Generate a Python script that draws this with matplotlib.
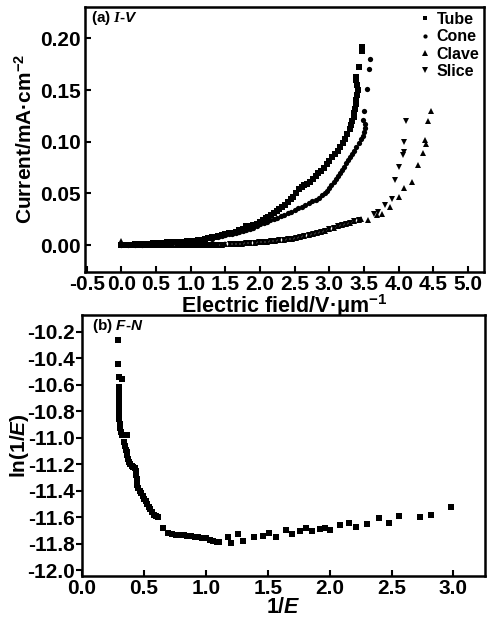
import matplotlib
matplotlib.use('Agg')
import matplotlib.pyplot as plt

# ---------------------------------------------------------------------------
# Datos
# ---------------------------------------------------------------------------
tube_x = [0.00, 0.05, 0.10, 0.15, 0.20, 0.25, 0.30, 0.35, 0.40, 0.45, 0.50, 0.55,
          0.60, 0.65, 0.70, 0.75, 0.80, 0.85, 0.90, 0.95, 1.00, 1.05, 1.10, 1.15,
          1.20, 1.25, 1.30, 1.35, 1.40, 1.45, 1.50, 1.55, 1.60, 1.65, 1.70, 1.75,
          1.80, 1.85, 1.90, 1.95, 2.00, 2.04, 2.08, 2.12, 2.16, 2.20, 2.24, 2.28,
          2.32, 2.36, 2.40, 2.44, 2.48, 2.52, 2.56, 2.60, 2.64, 2.68, 2.72, 2.76,
          2.80, 2.84, 2.88, 2.92, 2.96, 3.00, 3.04, 3.08, 3.12, 3.16, 3.20, 3.23,
          3.26, 3.29, 3.31, 3.33, 3.35, 3.36, 3.37, 3.38, 3.39, 3.40, 3.41, 3.40,
          3.39, 3.38, 3.42, 3.47, 3.47]
tube_y = [0.000, 0.000, 0.000, 0.000, 0.001, 0.001, 0.001, 0.001, 0.001, 0.002, 0.002, 0.002,
          0.002, 0.003, 0.003, 0.003, 0.003, 0.003, 0.003, 0.004, 0.004, 0.004, 0.005, 0.005,
          0.006, 0.007, 0.008, 0.008, 0.009, 0.010, 0.011, 0.012, 0.012, 0.013, 0.015, 0.016,
          0.018, 0.018, 0.019, 0.020, 0.022, 0.024, 0.026, 0.027, 0.029, 0.031, 0.033, 0.035,
          0.037, 0.039, 0.042, 0.045, 0.047, 0.050, 0.054, 0.056, 0.058, 0.059, 0.061, 0.064,
          0.067, 0.070, 0.072, 0.075, 0.078, 0.081, 0.085, 0.088, 0.091, 0.095, 0.099, 0.103,
          0.107, 0.112, 0.116, 0.120, 0.124, 0.128, 0.132, 0.136, 0.140, 0.145, 0.150, 0.155,
          0.160, 0.163, 0.172, 0.188, 0.192]

cone_x = [0.00, 0.10, 0.20, 0.30, 0.40, 0.50, 0.60, 0.70, 0.80, 0.90, 1.00, 1.10,
          1.20, 1.30, 1.40, 1.45, 1.50, 1.55, 1.60, 1.65, 1.70, 1.75, 1.80, 1.85,
          1.90, 1.95, 2.00, 2.05, 2.10, 2.15, 2.20, 2.25, 2.30, 2.35, 2.40, 2.45,
          2.50, 2.55, 2.60, 2.65, 2.70, 2.75, 2.80, 2.85, 2.90, 2.94, 2.97, 3.00,
          3.03, 3.06, 3.09, 3.12, 3.15, 3.18, 3.21, 3.24, 3.27, 3.30, 3.33, 3.36,
          3.39, 3.42, 3.45, 3.48, 3.50, 3.52, 3.51, 3.49, 3.50, 3.54, 3.57, 3.59]
cone_y = [0.000, 0.000, 0.000, 0.000, 0.001, 0.001, 0.001, 0.002, 0.002, 0.003, 0.003, 0.004,
          0.005, 0.006, 0.008, 0.009, 0.010, 0.011, 0.011, 0.012, 0.013, 0.014, 0.015, 0.016,
          0.017, 0.018, 0.020, 0.021, 0.022, 0.024, 0.025, 0.026, 0.028, 0.029, 0.031, 0.032,
          0.034, 0.036, 0.037, 0.039, 0.041, 0.043, 0.044, 0.046, 0.048, 0.050, 0.052, 0.055,
          0.058, 0.061, 0.064, 0.067, 0.070, 0.073, 0.076, 0.079, 0.082, 0.085, 0.088, 0.091,
          0.095, 0.099, 0.103, 0.106, 0.109, 0.113, 0.117, 0.121, 0.130, 0.151, 0.170, 0.180]

clave_x = [0.00, 0.00, 0.05, 0.10, 0.15, 0.20, 0.25, 0.30, 0.35, 0.40, 0.45, 0.50,
           0.55, 0.60, 0.65, 0.70, 0.75, 0.80, 0.85, 0.90, 0.95, 1.00, 1.05, 1.10,
           1.15, 1.20, 1.25, 1.30, 1.35, 1.40, 1.45, 1.50, 1.56, 1.62, 1.68, 1.74,
           1.80, 1.86, 1.92, 1.98, 2.04, 2.10, 2.16, 2.22, 2.28, 2.34, 2.40, 2.46,
           2.52, 2.58, 2.64, 2.70, 2.76, 2.82, 2.88, 2.94, 3.00, 3.06, 3.12, 3.18,
           3.24, 3.30, 3.36, 3.42, 3.45, 3.56, 3.69, 3.76, 3.88, 4.00, 4.08, 4.19,
           4.28, 4.35, 4.39, 4.38, 4.42, 4.46]
clave_y = [0.004, 0.001, 0.000, 0.000, 0.000, 0.000, 0.000, 0.000, 0.000, 0.000, 0.000, 0.000,
           0.000, 0.000, 0.000, 0.000, 0.000, 0.000, 0.000, 0.000, 0.000, 0.000, 0.000, 0.000,
           0.000, 0.000, 0.000, 0.000, 0.000, 0.000, 0.000, 0.001, 0.001, 0.001, 0.001, 0.001,
           0.002, 0.002, 0.002, 0.003, 0.003, 0.003, 0.004, 0.004, 0.005, 0.005, 0.006, 0.006,
           0.007, 0.008, 0.009, 0.010, 0.011, 0.012, 0.013, 0.014, 0.016, 0.017, 0.018, 0.019,
           0.020, 0.021, 0.023, 0.024, 0.025, 0.024, 0.029, 0.030, 0.037, 0.047, 0.055, 0.061,
           0.077, 0.089, 0.098, 0.102, 0.120, 0.130]

slice_x = [0.03, 0.08, 0.13, 0.18, 0.23, 0.28, 0.33, 0.38, 0.43, 0.48, 0.53, 0.58,
           0.63, 0.68, 0.73, 0.78, 0.83, 0.88, 0.93, 0.98, 1.03, 1.08, 1.13, 1.18,
           1.23, 1.28, 1.33, 1.38, 1.43, 1.48, 1.56, 1.62, 1.68, 1.74, 1.80, 1.86,
           1.92, 1.98, 2.04, 2.10, 2.16, 2.22, 2.28, 2.34, 2.40, 2.46, 2.52, 2.58,
           2.64, 2.70, 2.76, 2.82, 2.88, 2.94, 3.00, 3.06, 3.12, 3.18, 3.24, 3.30,
           3.36, 3.42, 3.65, 3.70, 3.80, 3.90, 3.95, 4.00, 4.06, 4.07, 4.07, 4.10]
slice_y = [0.000, 0.000, 0.000, 0.000, 0.000, 0.000, 0.000, 0.000, 0.000, 0.000, 0.000, 0.000,
           0.000, 0.000, 0.000, 0.000, 0.000, 0.000, 0.000, 0.000, 0.000, 0.000, 0.000, 0.000,
           0.000, 0.000, 0.000, 0.000, 0.000, 0.000, 0.001, 0.001, 0.001, 0.001, 0.002, 0.002,
           0.002, 0.003, 0.003, 0.003, 0.004, 0.004, 0.005, 0.005, 0.006, 0.006, 0.007, 0.008,
           0.009, 0.010, 0.011, 0.012, 0.013, 0.014, 0.016, 0.017, 0.018, 0.019, 0.020, 0.021,
           0.023, 0.024, 0.030, 0.032, 0.039, 0.045, 0.063, 0.076, 0.087, 0.090, 0.100, 0.120]

fn_x = [0.292, 0.292, 0.295, 0.327, 0.297, 0.298, 0.298, 0.299, 0.299, 0.300, 0.301, 0.303,
        0.306, 0.312, 0.320, 0.360, 0.340, 0.345, 0.355, 0.360, 0.365, 0.372, 0.380, 0.390,
        0.400, 0.415, 0.430, 0.438, 0.440, 0.441, 0.443, 0.447, 0.455, 0.465, 0.478, 0.490,
        0.502, 0.515, 0.528, 0.540, 0.552, 0.565, 0.580, 0.600, 0.615, 0.654, 0.694, 0.73,
        0.76, 0.79, 0.82, 0.85, 0.88, 0.91, 0.94, 0.97, 1.00, 1.03, 1.06, 1.09,
        1.11, 1.177, 1.20, 1.26, 1.30, 1.39, 1.46, 1.51, 1.57, 1.65, 1.70, 1.76,
        1.81, 1.86, 1.92, 1.96, 2.00, 2.08, 2.16, 2.21, 2.30, 2.40, 2.48, 2.56,
        2.73, 2.82, 2.98]
fn_y = [-10.267, -10.448, -10.54, -10.56, -10.62, -10.66, -10.70, -10.74, -10.78, -10.82, -10.86, -10.90,
        -10.93, -10.96, -10.98, -10.98, -11.03, -11.06, -11.09, -11.11, -11.13, -11.16, -11.18, -11.20,
        -11.21, -11.22, -11.23, -11.25, -11.28, -11.31, -11.34, -11.36, -11.38, -11.40, -11.42, -11.44,
        -11.46, -11.48, -11.50, -11.52, -11.54, -11.56, -11.58, -11.59, -11.60, -11.678, -11.715, -11.73,
        -11.735, -11.735, -11.737, -11.74, -11.745, -11.75, -11.75, -11.755, -11.76, -11.77, -11.777, -11.785,
        -11.79, -11.75, -11.797, -11.727, -11.777, -11.75, -11.74, -11.715, -11.75, -11.695, -11.73, -11.70,
        -11.678, -11.70, -11.69, -11.678, -11.695, -11.658, -11.64, -11.67, -11.65, -11.608, -11.64, -11.59,
        -11.595, -11.58, -11.521]

xticks_a = [-0.5, 0.0, 0.5, 1.0, 1.5, 2.0, 2.5, 3.0, 3.5, 4.0, 4.5, 5.0]
yticks_a = [0.00, 0.05, 0.10, 0.15, 0.20]
xticks_b = [0.0, 0.5, 1.0, 1.5, 2.0, 2.5, 3.0]
yticks_b = [-10.2, -10.4, -10.6, -10.8, -11.0, -11.2, -11.4, -11.6, -11.8, -12.0]

# ---------------------------------------------------------------------------
# Estilo
# ---------------------------------------------------------------------------
plt.rcParams['font.family'] = ['Liberation Sans', 'DejaVu Sans']
plt.rcParams['font.weight'] = 'bold'
plt.rcParams['axes.labelweight'] = 'bold'
plt.rcParams['mathtext.fontset'] = 'custom'
plt.rcParams['mathtext.rm'] = 'Liberation Sans:bold'
plt.rcParams['mathtext.bf'] = 'Liberation Sans:bold'
plt.rcParams['mathtext.it'] = 'Liberation Sans:italic:bold'
plt.rcParams['mathtext.sf'] = 'Liberation Serif:italic'
plt.rcParams['axes.linewidth'] = 1.8

fig = plt.figure(figsize=(4.87, 6.17), dpi=100)
ax1 = fig.add_axes([0.1745, 0.5595, 0.8193, 0.4292])
ax2 = fig.add_axes([0.1684, 0.0660, 0.8275, 0.4235])

# ---------------------------- panel (a) ------------------------------------
ax1.plot(tube_x, tube_y, 's', color='k', ms=4.0, mew=0, label='Tube')
ax1.plot(cone_x, cone_y, 'o', color='k', ms=3.8, mew=0, label='Cone')
ax1.plot(clave_x, clave_y, '^', color='k', ms=5.0, mew=0, label='Clave')
ax1.plot(slice_x, slice_y, 'v', color='k', ms=5.0, mew=0, label='Slice')

ax1.set_xlim(-0.526, 5.23)
ax1.set_ylim(-0.0258, 0.2303)
ax1.set_xticks(xticks_a)
ax1.set_yticks(yticks_a)
ax1.set_xticklabels(['%.1f' % v for v in xticks_a])
ax1.set_yticklabels(['%.2f' % v for v in yticks_a])
ax1.tick_params(direction='in', length=4, width=1.5, labelsize=15, pad=3)
ax1.tick_params(axis='x', pad=2)
ax1.set_xlabel(u'Electric field/V·μm$^{-1}$', fontsize=15.5, labelpad=-1)
ax1.set_ylabel(u'Current/mA·cm$^{-2}$', fontsize=15, labelpad=3)
ax1.text(0.015, 0.992, r'(a) $\mathsf{I}$-$\mathit{V}$', transform=ax1.transAxes,
         fontsize=11, ha='left', va='top')
leg = ax1.legend(loc='upper right', frameon=False, fontsize=11.5, markerscale=0.8,
                 handlelength=0.6, handletextpad=0.4, labelspacing=0.15,
                 borderaxespad=0.05, borderpad=0.25)

# ---------------------------- panel (b) ------------------------------------
ax2.plot(fn_x, fn_y, 's', color='k', ms=4.6, mew=0)
ax2.set_xlim(0.0, 3.255)
ax2.set_ylim(-12.045, -10.075)
ax2.set_xticks(xticks_b)
ax2.set_yticks(yticks_b)
ax2.set_xticklabels(['%.1f' % v for v in xticks_b])
ax2.set_yticklabels(['%.1f' % v for v in yticks_b])
ax2.tick_params(axis='x', direction='in', length=4, width=1.5, labelsize=15, pad=2)
ax2.tick_params(axis='y', direction='out', length=4, width=1.5, labelsize=15, pad=1)
ax2.set_xlabel(r'1/$\mathit{E}$', fontsize=15.5, labelpad=-1)
ax2.set_ylabel(r'ln(1/$\mathit{E}$)', fontsize=15, labelpad=-3)
ax2.text(0.025, 0.992, r'(b) $\mathit{F}$-$\mathit{N}$', transform=ax2.transAxes,
         fontsize=11, ha='left', va='top')

fig.savefig('out.png', dpi=100)
